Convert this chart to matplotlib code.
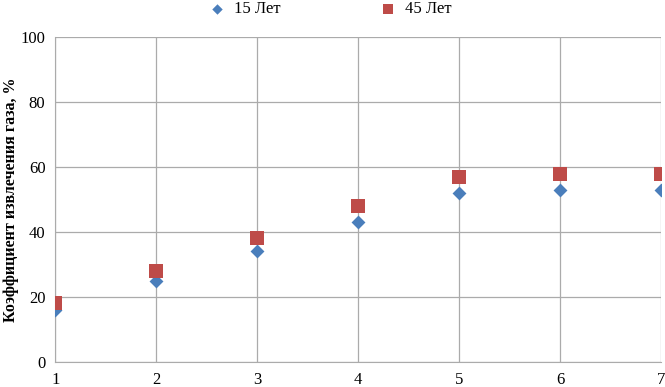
import matplotlib
matplotlib.use("Agg")
import matplotlib.pyplot as plt

x = [1, 2, 3, 4, 5, 6, 7]
y15 = [16, 25, 34, 43, 52, 53, 53]
y45 = [18, 28, 38, 48, 57, 58, 58]
labels = ["15 Лет", "45 Лет"]
ylabel = "Коэффициент извлечения газа, %"

plt.rcParams['font.family'] = ['Liberation Serif', 'DejaVu Serif']

fig = plt.figure(figsize=(6.65, 3.87), dpi=100)
ax = fig.add_axes([0.083, 0.065, 0.911, 0.839])
ax.scatter(x, y15, marker='D', s=50, color='#4a7ebb', zorder=3, label=labels[0], linewidths=0)
ax.scatter(x, y45, marker='s', s=110, color='#be4b48', zorder=3, label=labels[1], linewidths=0)
ax.set_xlim(1, 7)
ax.set_ylim(0, 100)
ax.set_yticks([0, 20, 40, 60, 80, 100])
ax.set_xticks(x)
ax.grid(True, color='#ababab', linewidth=0.9)
ax.set_axisbelow(True)
for s in ['top', 'right']:
    ax.spines[s].set_visible(False)
for s in ['left', 'bottom']:
    ax.spines[s].set_color('#ababab')
ax.tick_params(length=0, labelsize=12, pad=7)
ax.set_ylabel(ylabel, fontsize=11.5, fontweight='bold')
ax.yaxis.set_label_coords(-0.06, 0.5)
fig.legend(loc='upper center', bbox_to_anchor=(0.49, 1.035), ncol=2, frameon=False,
           fontsize=12, handletextpad=0.0, columnspacing=5.5, markerscale=0.75)
fig.savefig("out.png", dpi=100)
